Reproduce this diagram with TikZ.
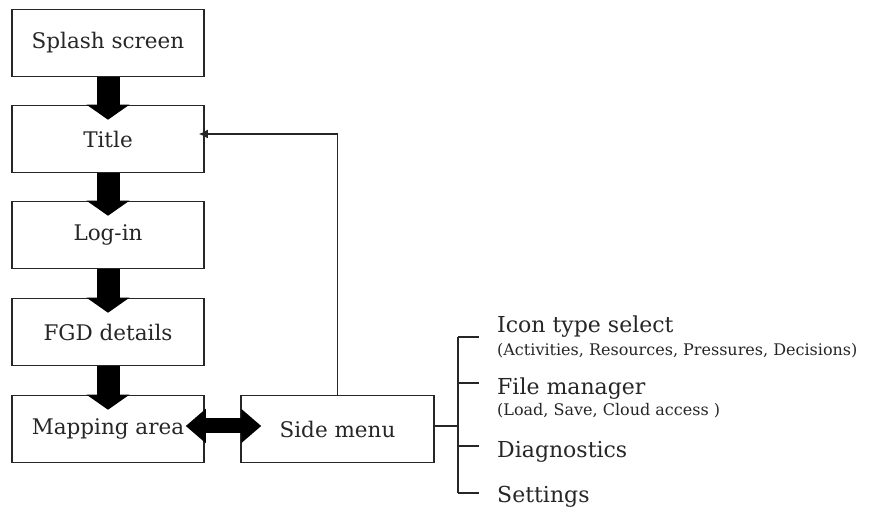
\documentclass[tikz,border=0pt]{standalone}
\usepackage{fontspec}
\setmainfont{DejaVu Serif}
\usetikzlibrary{arrows.meta,calc}
\definecolor{ink}{HTML}{262626}
\tikzset{
  box/.style={draw=ink, line width=1.5pt, minimum width=192pt, minimum height=67pt,
    inner sep=0pt, text=ink, font=\fontsize{21.5}{25}\selectfont},
  bigarrow/.style={line width=23pt, -{Triangle[width=42pt,length=15pt]}},
  dblarrow/.style={line width=15pt, {Triangle[width=33pt,length=20pt]}-{Triangle[width=33pt,length=20pt]}},
  thin/.style={draw=ink, line width=1.5pt},
  item/.style={anchor=west, inner sep=0pt, text=ink, font=\fontsize{22}{26}\selectfont},
  sub/.style={anchor=west, inner sep=0pt, text=ink, font=\fontsize{16}{19}\selectfont}
}
\begin{document}
\begin{tikzpicture}[x=1pt,y=-1pt]
\useasboundingbox (0,0) rectangle (873,510);
\node[box] (splash) at (108,43) {Splash screen};
\node[box] (title) at (108,139) {Title};
\node[box] (login) at (108,235) {Log-in};
\node[box] (fgd) at (108,332) {FGD details};
\node[box] (map) at (108,429) {Mapping area};
\node[box, minimum width=193pt] (side) at (337.5,429) {Side menu};
% thick arrows
\draw[bigarrow] (splash.south) -- ($(title.north)+(0,15)$);
\draw[bigarrow] (title.south) -- ($(login.north)+(0,15)$);
\draw[bigarrow] (login.south) -- ($(fgd.north)+(0,15)$);
\draw[bigarrow] (fgd.south) -- ($(map.north)+(0,15)$);
\draw[dblarrow] ($(map.east)+(-19,-3)$) -- ($(side.west)+(21,-3)$);
% return line
\coordinate (ret) at ($(title.east)+(-6,-5)$);
\draw[thin, -{Latex[length=9pt,width=9pt]}] (side.north) |- (ret);
% bracket
\coordinate (bj) at (458,426);
\draw[thin] ($(side.east)+(0,-3)$) -- (bj);
\coordinate (b1) at (458,337);
\coordinate (b2) at (458,383);
\coordinate (b3) at (458,446);
\coordinate (b4) at (458,493);
\draw[thin] (b1) -- (b4);
\draw[thin] (b1) -- ++(21,0);
\draw[thin] (b2) -- ++(21,0);
\draw[thin] (b3) -- ++(21,0);
\draw[thin] (b4) -- ++(21,0);
\node[item] (icon) at (497,327) {Icon type select};
\node[sub] (iconsub) at (497,351) {(Activities, Resources, Pressures, Decisions)};
\node[item] (file) at (497,389) {File manager};
\node[sub] (filesub) at (497,411) {(Load, Save, Cloud access )};
\node[item] (diag) at (497,452) {Diagnostics};
\node[item] (sett) at (497,497) {Settings};
\end{tikzpicture}
\end{document}
